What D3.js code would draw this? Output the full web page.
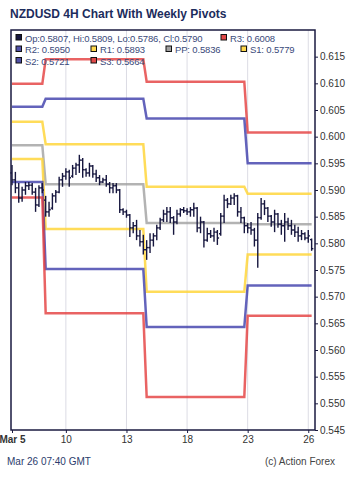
<!DOCTYPE html>
<html lang="en">
  <head>
    <meta charset="UTF-8">
    <script src="https://cdn.jsdelivr.net/npm/d3@7"></script>
    <style>
      body { margin: 0; background: #fff; }
      svg { font-family: 'Liberation Sans', Arial, sans-serif; }
      .axis path, .axis line { stroke: #1a1a40; }
      .axis text { fill: #333; font-size: 10px; }
    </style>
  </head>
  <body>
    <script>
      // 4H bars, Mar 5 - Mar 26
      let opens  = [0.5932,0.5919,0.5904,0.5885,0.5900,0.5908,0.5909,0.5896,0.5872,0.5904,
                    0.5881,0.5859,0.5866,0.5889,0.5896,0.5919,0.5926,0.5934,0.5926,0.5941,
                    0.5947,0.5956,0.5938,0.5932,0.5945,0.5930,0.5923,0.5915,0.5919,0.5911,
                    0.5904,0.5908,0.5900,0.5863,0.5859,0.5853,0.5829,0.5833,0.5814,0.5803,
                    0.5788,0.5792,0.5806,0.5814,0.5829,0.5844,0.5855,0.5859,0.5848,0.5840,
                    0.5855,0.5863,0.5861,0.5859,0.5863,0.5866,0.5829,0.5840,0.5806,0.5818,
                    0.5814,0.5821,0.5818,0.5851,0.5881,0.5874,0.5885,0.5889,0.5859,0.5848,
                    0.5833,0.5829,0.5825,0.5806,0.5848,0.5874,0.5866,0.5851,0.5840,0.5855,
                    0.5836,0.5833,0.5840,0.5833,0.5825,0.5821,0.5814,0.5818,0.5810,0.5807];
      let highs  = [0.5947,0.5934,0.5913,0.5906,0.5915,0.5915,0.5913,0.5904,0.5909,0.5913,
                    0.5889,0.5878,0.5894,0.5900,0.5925,0.5932,0.5941,0.5938,0.5947,0.5951,
                    0.5966,0.5960,0.5941,0.5951,0.5947,0.5938,0.5928,0.5923,0.5928,0.5915,
                    0.5913,0.5913,0.5902,0.5866,0.5863,0.5855,0.5840,0.5844,0.5825,0.5816,
                    0.5806,0.5819,0.5819,0.5835,0.5848,0.5863,0.5868,0.5868,0.5851,0.5863,
                    0.5866,0.5868,0.5866,0.5868,0.5876,0.5868,0.5850,0.5842,0.5829,0.5825,
                    0.5829,0.5825,0.5857,0.5891,0.5885,0.5891,0.5894,0.5891,0.5868,0.5850,
                    0.5838,0.5840,0.5829,0.5857,0.5885,0.5881,0.5868,0.5853,0.5863,0.5857,
                    0.5844,0.5857,0.5848,0.5844,0.5835,0.5831,0.5825,0.5821,0.5825,0.5809];
      let lows   = [0.5909,0.5894,0.5876,0.5878,0.5891,0.5900,0.5891,0.5859,0.5868,0.5894,
                    0.5850,0.5850,0.5863,0.5876,0.5894,0.5906,0.5919,0.5906,0.5923,0.5928,
                    0.5932,0.5923,0.5925,0.5925,0.5923,0.5915,0.5909,0.5913,0.5906,0.5894,
                    0.5894,0.5894,0.5857,0.5853,0.5848,0.5812,0.5819,0.5806,0.5794,0.5779,
                    0.5769,0.5782,0.5794,0.5806,0.5825,0.5840,0.5840,0.5838,0.5816,0.5836,
                    0.5850,0.5857,0.5853,0.5850,0.5850,0.5821,0.5819,0.5792,0.5803,0.5810,
                    0.5803,0.5797,0.5814,0.5838,0.5866,0.5872,0.5872,0.5850,0.5838,0.5819,
                    0.5819,0.5816,0.5794,0.5754,0.5844,0.5853,0.5840,0.5831,0.5821,0.5829,
                    0.5816,0.5803,0.5825,0.5816,0.5812,0.5803,0.5806,0.5806,0.5801,0.5786];
      let closes = [0.5919,0.5904,0.5885,0.5900,0.5908,0.5909,0.5896,0.5872,0.5904,0.5900,
                    0.5859,0.5863,0.5889,0.5896,0.5919,0.5926,0.5934,0.5923,0.5941,0.5947,
                    0.5956,0.5938,0.5932,0.5945,0.5930,0.5923,0.5915,0.5919,0.5911,0.5904,
                    0.5908,0.5900,0.5863,0.5859,0.5853,0.5829,0.5833,0.5814,0.5803,0.5788,
                    0.5792,0.5806,0.5814,0.5829,0.5844,0.5855,0.5859,0.5848,0.5840,0.5855,
                    0.5863,0.5861,0.5859,0.5863,0.5866,0.5829,0.5840,0.5806,0.5818,0.5814,
                    0.5821,0.5810,0.5851,0.5881,0.5874,0.5885,0.5889,0.5859,0.5848,0.5833,
                    0.5829,0.5825,0.5806,0.5848,0.5874,0.5866,0.5851,0.5840,0.5855,0.5836,
                    0.5833,0.5840,0.5833,0.5825,0.5821,0.5814,0.5818,0.5810,0.5814,0.5790];

      // weekly pivots (first bar index of each week)
      let weekStarts = [0, 10, 40, 70];
      let r3 = [0.6099, 0.6145, 0.6103, 0.6008];
      let r2 = [0.6056, 0.6071, 0.6034, 0.5950];
      let r1 = [0.6028, 0.5986, 0.5906, 0.5893];
      let pp = [0.5984, 0.5911, 0.5838, 0.5836];
      let s1 = [0.5958, 0.5827, 0.5709, 0.5779];
      let s2 = [0.5915, 0.5752, 0.5643, 0.5721];
      let s3 = [0.5886, 0.5669, 0.5512, 0.5664];

      // x tick labels
      let tickIdx = [0, 16, 34, 52, 70, 88];
      let tickLabels = ['Mar 5', '10', '13', '18', '23', '26'];
      let yTicks = [0.545,0.55,0.555,0.56,0.565,0.57,0.575,0.58,0.585,0.59,0.595,0.6,0.605,0.61,0.615];

      let w = 350, h = 481;
      let pLeft = 11, pRight = 315, pTop = 30, pBottom = 430;

      let svg = d3.select('body').append('svg')
                  .attr('width', w)
                  .attr('height', h);

      let n = closes.length;
      let xScale = d3.scaleLinear().domain([-0.3, 90]).range([pLeft, pRight]);
      let yScale = d3.scaleLinear().domain([0.545, 0.62]).range([pBottom, pTop]);

      // title
      svg.append('text')
          .attr('x', 10).attr('y', 18)
          .attr('font-size', '12px').attr('font-weight', 'bold')
          .attr('fill', '#1c2c5c')
          .text('NZDUSD 4H Chart With Weekly Pivots');

      // vertical grid
      svg.append('g').selectAll('line')
          .data(tickIdx.slice(1))
          .enter().append('line')
          .attr('x1', d => xScale(d)).attr('x2', d => xScale(d))
          .attr('y1', pTop).attr('y2', pBottom)
          .attr('stroke', '#dcdce4').attr('stroke-width', 1);

      // pivot lines
      let weekOf = i => d3.bisectRight(weekStarts, i) - 1;
      let levels = [
        {vals: r3, color: 'rgba(228,60,60,0.8)'},
        {vals: r2, color: 'rgba(60,60,170,0.8)'},
        {vals: r1, color: 'rgba(255,214,60,0.85)'},
        {vals: pp, color: 'rgba(160,160,160,0.8)'},
        {vals: s1, color: 'rgba(255,214,60,0.85)'},
        {vals: s2, color: 'rgba(60,60,170,0.8)'},
        {vals: s3, color: 'rgba(228,60,60,0.8)'}
      ];
      let line = d3.line()
                   .x(d => xScale(d[0]))
                   .y(d => yScale(d[1]));
      levels.forEach(lv => {
        let pts = d3.range(n).map(i => [i, lv.vals[weekOf(i)]]);
        svg.append('path')
            .datum(pts)
            .attr('d', line)
            .attr('fill', 'none')
            .attr('stroke', lv.color)
            .attr('stroke-width', 2.5);
      });

      // OHLC bars
      let barColor = '#16163e';
      let bars = svg.append('g').selectAll('g')
          .data(d3.range(n))
          .enter().append('g')
          .attr('stroke', barColor).attr('stroke-width', 1.4);
      bars.append('line')
          .attr('x1', i => xScale(i)).attr('x2', i => xScale(i))
          .attr('y1', i => yScale(highs[i])).attr('y2', i => yScale(lows[i]));
      bars.append('line')
          .attr('x1', i => xScale(i) - 1.7).attr('x2', i => xScale(i))
          .attr('y1', i => yScale(opens[i])).attr('y2', i => yScale(opens[i]));
      bars.append('line')
          .attr('x1', i => xScale(i)).attr('x2', i => xScale(i) + 1.7)
          .attr('y1', i => yScale(closes[i])).attr('y2', i => yScale(closes[i]));

      // right axis
      let yAxis = d3.axisRight(yScale)
                    .tickValues(yTicks)
                    .tickFormat(d3.format('.3f'))
                    .tickSize(3)
                    .tickPadding(2);
      svg.append('g')
          .attr('class', 'axis')
          .attr('transform', 'translate(' + pRight + ',0)')
          .call(yAxis)
          .call(g => g.select('.domain').remove());

      // bottom axis
      let xAxis = d3.axisBottom(xScale)
                    .tickValues(tickIdx)
                    .tickFormat((d, i) => tickLabels[i])
                    .tickSize(3)
                    .tickPadding(3);
      let xg = svg.append('g')
          .attr('class', 'axis')
          .attr('transform', 'translate(0,' + pBottom + ')')
          .call(xAxis)
          .call(g => g.select('.domain').remove());
      xg.selectAll('text')
          .attr('fill', '#333')
          .attr('font-weight', (d, i) => i === 0 ? 'bold' : 'normal');

      // frame
      svg.append('rect')
          .attr('x', pLeft).attr('y', pTop)
          .attr('width', pRight - pLeft).attr('height', pBottom - pTop)
          .attr('fill', 'none')
          .attr('stroke', '#1a1a40').attr('stroke-width', 1.5);

      // legend
      let last = n - 1;
      let f4 = d3.format('.4f');
      let legend = [
        {x: 16, row: 0, color: '#16163e', text: 'Op:' + f4(opens[last]) + ', Hi:' + f4(highs[last]) + ', Lo:' + f4(lows[last]) + ', Cl:' + f4(closes[last])},
        {x: 221, row: 0, color: '#e04848', text: 'R3: ' + f4(r3[3])},
        {x: 16, row: 1, color: '#5050a8', text: 'R2: ' + f4(r2[3])},
        {x: 91, row: 1, color: '#ffd84c', text: 'R1: ' + f4(r1[3])},
        {x: 166, row: 1, color: '#a0a0a0', text: 'PP: ' + f4(pp[3])},
        {x: 241, row: 1, color: '#ffd84c', text: 'S1: ' + f4(s1[3])},
        {x: 16, row: 2, color: '#5050a8', text: 'S2: ' + f4(s2[3])},
        {x: 91, row: 2, color: '#e04848', text: 'S3: ' + f4(s3[3])}
      ];
      let lg = svg.append('g').selectAll('g')
          .data(legend)
          .enter().append('g')
          .attr('transform', d => 'translate(' + d.x + ',' + (33 + d.row * 11.5) + ')');
      lg.append('rect')
          .attr('x', 0).attr('y', 1.5)
          .attr('width', 5.5).attr('height', 5.5)
          .attr('fill', d => d.color)
          .attr('stroke', '#111').attr('stroke-width', 1);
      lg.append('text')
          .attr('x', 9).attr('y', 8.5)
          .attr('font-size', '9.5px')
          .attr('letter-spacing', '-0.15px')
          .attr('fill', '#3a4a7a')
          .text(d => d.text);

      // footer
      svg.append('text')
          .attr('x', 7).attr('y', 465)
          .attr('font-size', '10px').attr('fill', '#2c3c6c')
          .text('Mar 26 07:40 GMT');
      svg.append('text')
          .attr('x', 335).attr('y', 465)
          .attr('text-anchor', 'end')
          .attr('font-size', '10px').attr('fill', '#444')
          .text('(c) Action Forex');
    </script>
  </body>
</html>
